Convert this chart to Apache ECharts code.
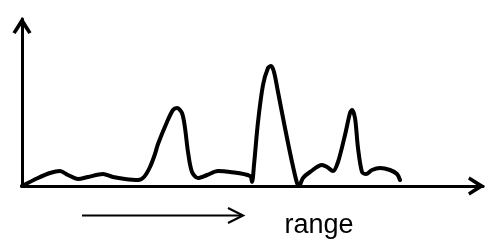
<!DOCTYPE html>
<html>
<head>
<meta charset="utf-8">
<script src="https://cdn.jsdelivr.net/npm/echarts@6/dist/echarts.min.js"></script>
<style>
  html, body { margin: 0; padding: 0; background: #fff; }
  #chart { width: 490px; height: 241px; }
</style>
</head>
<body>
<div id="chart"></div>
<script>
// Curve: position along the range, signal height
const curveX = [0, 16, 28, 38, 46, 56, 66, 81, 91, 103, 116, 122, 128, 133, 136, 145, 151, 155, 160, 163, 166, 170, 176, 185, 196, 208, 228, 230, 232, 236, 241, 246, 249, 252, 256, 263, 270, 275, 277, 281, 288, 300, 305, 311, 316, 323, 328, 330, 333, 336, 340, 344, 350, 358, 368, 375, 378];
const curveY = [0, 8, 13, 15, 11, 7, 9, 12, 9, 7, 6, 9, 19, 32, 42, 64, 76, 78, 73, 58, 34, 14, 8, 11, 15, 14, 10, 4, 21, 64, 101, 118, 120, 114, 94, 58, 24, 3, 0, 8, 14, 21, 19, 15, 24, 51, 73, 76, 68, 38, 14, 12, 16, 18, 16, 12, 6];
const xRange = [0, 461];
const yRange = [0, 167];
const axisLabel = 'range';

const chevron = 'path://M9.5,0 L19,15.3 L15.95,17 L9.5,7.2 L3.05,17 L0,15.3 Z';

const chart = echarts.init(document.getElementById('chart'), null, { renderer: 'canvas' });
chart.setOption({
  animation: false,
  backgroundColor: '#ffffff',
  grid: { left: 22, right: 7, top: 19, bottom: 55, containLabel: false },
  xAxis: {
    type: 'value', min: xRange[0], max: xRange[1],
    axisLine: { show: true, onZero: false, symbol: ['none', chevron], symbolSize: [19, 17], symbolOffset: [0, -6.5],
      lineStyle: { color: '#000', width: 3 } },
    axisTick: { show: false }, axisLabel: { show: false }, splitLine: { show: false }
  },
  yAxis: {
    type: 'value', min: yRange[0], max: yRange[1],
    axisLine: { show: true, onZero: false, symbol: ['none', chevron], symbolSize: [19, 17], symbolOffset: [0, -6.5],
      lineStyle: { color: '#000', width: 3 } },
    axisTick: { show: false }, axisLabel: { show: false }, splitLine: { show: false }
  },
  series: [{
    type: 'line',
    data: curveX.map((x, i) => [x, curveY[i]]),
    smooth: 0.3,
    showSymbol: false,
    clip: false,
    lineStyle: { color: '#000', width: 4, cap: 'round', join: 'round' }
  }],
  graphic: [
    { type: 'line', shape: { x1: 82, y1: 215.5, x2: 242, y2: 215.5 }, style: { stroke: '#000', lineWidth: 2 } },
    { type: 'polyline', shape: { points: [[228, 208], [243, 215.5], [228, 223]] }, style: { stroke: '#000', lineWidth: 2.2, fill: null } },
    { type: 'text', x: 319, y: 226, style: { text: axisLabel, fill: '#000', font: '27px "Liberation Sans", Arial, sans-serif', align: 'center', verticalAlign: 'middle' } }
  ]
});
</script>
</body>
</html>
